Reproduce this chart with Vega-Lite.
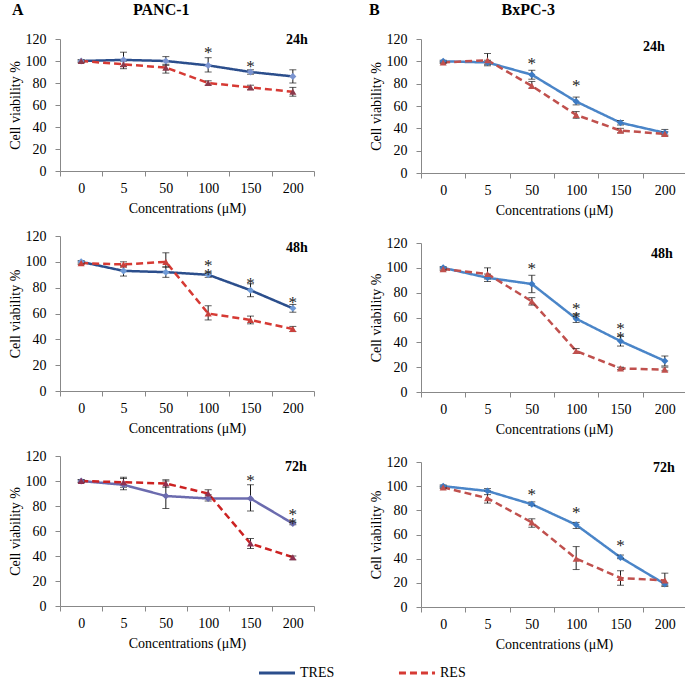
{
  "$schema": "https://vega.github.io/schema/vega-lite/v6.json",
  "padding": {"left": 8, "top": 2, "right": 0, "bottom": 0},
  "config": {
    "view": {"stroke": null},
    "font": "Liberation Serif",
    "axis": {"grid": false, "domainColor": "#888888", "tickColor": "#888888", "labelFont": "Liberation Serif", "titleFont": "Liberation Serif", "labelFontSize": 14, "titleFontSize": 14, "titleFontWeight": "normal", "labelColor": "#000000", "titleColor": "#000000"},
    "axisY": {"tickSize": 5, "labelPadding": 9, "titlePadding": 3},
    "axisX": {"labelAngle": 0, "tickBand": "extent", "tickSize": 5, "labelPadding": 5, "titlePadding": 6},
    "title": {"font": "Liberation Serif", "fontWeight": "bold", "color": "#000000"}
  },
  "datasets": {
    "v": [
      {"cell": "PANC-1", "t": "24h", "c": 0, "s": "TRES", "v": 100, "lo": 99, "hi": 101},
      {"cell": "PANC-1", "t": "24h", "c": 5, "s": "TRES", "v": 101, "lo": 95, "hi": 108},
      {"cell": "PANC-1", "t": "24h", "c": 50, "s": "TRES", "v": 100, "lo": 96, "hi": 104},
      {"cell": "PANC-1", "t": "24h", "c": 100, "s": "TRES", "v": 96, "lo": 90, "hi": 103, "star": "*", "sy": 112},
      {"cell": "PANC-1", "t": "24h", "c": 150, "s": "TRES", "v": 90, "lo": 88, "hi": 92, "star": "*", "sy": 99},
      {"cell": "PANC-1", "t": "24h", "c": 200, "s": "TRES", "v": 86, "lo": 80, "hi": 92},
      {"cell": "PANC-1", "t": "24h", "c": 0, "s": "RES", "v": 100, "lo": 99, "hi": 101},
      {"cell": "PANC-1", "t": "24h", "c": 5, "s": "RES", "v": 97, "lo": 93, "hi": 100},
      {"cell": "PANC-1", "t": "24h", "c": 50, "s": "RES", "v": 94, "lo": 89, "hi": 97},
      {"cell": "PANC-1", "t": "24h", "c": 100, "s": "RES", "v": 80, "lo": 78, "hi": 82},
      {"cell": "PANC-1", "t": "24h", "c": 150, "s": "RES", "v": 76, "lo": 74, "hi": 78},
      {"cell": "PANC-1", "t": "24h", "c": 200, "s": "RES", "v": 72, "lo": 68, "hi": 76},

      {"cell": "PANC-1", "t": "48h", "c": 0, "s": "TRES", "v": 100, "lo": 99, "hi": 101},
      {"cell": "PANC-1", "t": "48h", "c": 5, "s": "TRES", "v": 93, "lo": 89, "hi": 97},
      {"cell": "PANC-1", "t": "48h", "c": 50, "s": "TRES", "v": 92, "lo": 88, "hi": 96},
      {"cell": "PANC-1", "t": "48h", "c": 100, "s": "TRES", "v": 90, "lo": 88, "hi": 92, "star": "*\n*", "sy": 101},
      {"cell": "PANC-1", "t": "48h", "c": 150, "s": "TRES", "v": 78, "lo": 73, "hi": 83, "star": "*", "sy": 87},
      {"cell": "PANC-1", "t": "48h", "c": 200, "s": "TRES", "v": 64, "lo": 61, "hi": 67, "star": "*", "sy": 72},
      {"cell": "PANC-1", "t": "48h", "c": 0, "s": "RES", "v": 99, "lo": 98, "hi": 100},
      {"cell": "PANC-1", "t": "48h", "c": 5, "s": "RES", "v": 98, "lo": 96, "hi": 100},
      {"cell": "PANC-1", "t": "48h", "c": 50, "s": "RES", "v": 100, "lo": 96, "hi": 107},
      {"cell": "PANC-1", "t": "48h", "c": 100, "s": "RES", "v": 60, "lo": 55, "hi": 66},
      {"cell": "PANC-1", "t": "48h", "c": 150, "s": "RES", "v": 55, "lo": 52, "hi": 58},
      {"cell": "PANC-1", "t": "48h", "c": 200, "s": "RES", "v": 48, "lo": 46, "hi": 50},

      {"cell": "PANC-1", "t": "72h", "c": 0, "s": "TRES", "v": 100, "lo": 99, "hi": 101},
      {"cell": "PANC-1", "t": "72h", "c": 5, "s": "TRES", "v": 97, "lo": 93, "hi": 103},
      {"cell": "PANC-1", "t": "72h", "c": 50, "s": "TRES", "v": 88, "lo": 78, "hi": 100},
      {"cell": "PANC-1", "t": "72h", "c": 100, "s": "TRES", "v": 86, "lo": 84, "hi": 89},
      {"cell": "PANC-1", "t": "72h", "c": 150, "s": "TRES", "v": 86, "lo": 76, "hi": 97, "star": "*", "sy": 104},
      {"cell": "PANC-1", "t": "72h", "c": 200, "s": "TRES", "v": 66, "lo": 65, "hi": 67, "star": "*\n*", "sy": 77},
      {"cell": "PANC-1", "t": "72h", "c": 0, "s": "RES", "v": 100, "lo": 99, "hi": 101},
      {"cell": "PANC-1", "t": "72h", "c": 5, "s": "RES", "v": 99, "lo": 95, "hi": 102},
      {"cell": "PANC-1", "t": "72h", "c": 50, "s": "RES", "v": 98, "lo": 95, "hi": 101},
      {"cell": "PANC-1", "t": "72h", "c": 100, "s": "RES", "v": 90, "lo": 87, "hi": 93},
      {"cell": "PANC-1", "t": "72h", "c": 150, "s": "RES", "v": 50, "lo": 46, "hi": 54},
      {"cell": "PANC-1", "t": "72h", "c": 200, "s": "RES", "v": 39, "lo": 37, "hi": 40},

      {"cell": "BxPC-3", "t": "24h", "c": 0, "s": "TRES", "v": 100, "lo": 99, "hi": 101},
      {"cell": "BxPC-3", "t": "24h", "c": 5, "s": "TRES", "v": 99, "lo": 97, "hi": 101},
      {"cell": "BxPC-3", "t": "24h", "c": 50, "s": "TRES", "v": 88, "lo": 84, "hi": 92, "star": "*", "sy": 102},
      {"cell": "BxPC-3", "t": "24h", "c": 100, "s": "TRES", "v": 64, "lo": 61, "hi": 68, "star": "*", "sy": 82},
      {"cell": "BxPC-3", "t": "24h", "c": 150, "s": "TRES", "v": 45, "lo": 43, "hi": 47},
      {"cell": "BxPC-3", "t": "24h", "c": 200, "s": "TRES", "v": 36, "lo": 34, "hi": 39},
      {"cell": "BxPC-3", "t": "24h", "c": 0, "s": "RES", "v": 99, "lo": 98, "hi": 100},
      {"cell": "BxPC-3", "t": "24h", "c": 5, "s": "RES", "v": 101, "lo": 96, "hi": 107},
      {"cell": "BxPC-3", "t": "24h", "c": 50, "s": "RES", "v": 78, "lo": 76, "hi": 82},
      {"cell": "BxPC-3", "t": "24h", "c": 100, "s": "RES", "v": 52, "lo": 49, "hi": 55},
      {"cell": "BxPC-3", "t": "24h", "c": 150, "s": "RES", "v": 38, "lo": 36, "hi": 40},
      {"cell": "BxPC-3", "t": "24h", "c": 200, "s": "RES", "v": 35, "lo": 33, "hi": 37},

      {"cell": "BxPC-3", "t": "48h", "c": 0, "s": "TRES", "v": 100, "lo": 99, "hi": 101},
      {"cell": "BxPC-3", "t": "48h", "c": 5, "s": "TRES", "v": 92, "lo": 89, "hi": 95},
      {"cell": "BxPC-3", "t": "48h", "c": 50, "s": "TRES", "v": 87, "lo": 80, "hi": 94, "star": "*", "sy": 103},
      {"cell": "BxPC-3", "t": "48h", "c": 100, "s": "TRES", "v": 59, "lo": 56, "hi": 63, "star": "*\n*", "sy": 71},
      {"cell": "BxPC-3", "t": "48h", "c": 150, "s": "TRES", "v": 41, "lo": 37, "hi": 45, "star": "*\n*", "sy": 55},
      {"cell": "BxPC-3", "t": "48h", "c": 200, "s": "TRES", "v": 25, "lo": 21, "hi": 29},
      {"cell": "BxPC-3", "t": "48h", "c": 0, "s": "RES", "v": 99, "lo": 98, "hi": 100},
      {"cell": "BxPC-3", "t": "48h", "c": 5, "s": "RES", "v": 95, "lo": 91, "hi": 100},
      {"cell": "BxPC-3", "t": "48h", "c": 50, "s": "RES", "v": 73, "lo": 70, "hi": 76},
      {"cell": "BxPC-3", "t": "48h", "c": 100, "s": "RES", "v": 33, "lo": 31, "hi": 35},
      {"cell": "BxPC-3", "t": "48h", "c": 150, "s": "RES", "v": 19, "lo": 18, "hi": 20},
      {"cell": "BxPC-3", "t": "48h", "c": 200, "s": "RES", "v": 18, "lo": 17, "hi": 20},

      {"cell": "BxPC-3", "t": "72h", "c": 0, "s": "TRES", "v": 100, "lo": 99, "hi": 101},
      {"cell": "BxPC-3", "t": "72h", "c": 5, "s": "TRES", "v": 96, "lo": 93, "hi": 98},
      {"cell": "BxPC-3", "t": "72h", "c": 50, "s": "TRES", "v": 85, "lo": 84, "hi": 87, "star": "*", "sy": 97},
      {"cell": "BxPC-3", "t": "72h", "c": 100, "s": "TRES", "v": 68, "lo": 65, "hi": 70, "star": "*", "sy": 82},
      {"cell": "BxPC-3", "t": "72h", "c": 150, "s": "TRES", "v": 41, "lo": 40, "hi": 43, "star": "*", "sy": 55},
      {"cell": "BxPC-3", "t": "72h", "c": 200, "s": "TRES", "v": 19, "lo": 18, "hi": 20},
      {"cell": "BxPC-3", "t": "72h", "c": 0, "s": "RES", "v": 99, "lo": 98, "hi": 100},
      {"cell": "BxPC-3", "t": "72h", "c": 5, "s": "RES", "v": 90, "lo": 86, "hi": 96},
      {"cell": "BxPC-3", "t": "72h", "c": 50, "s": "RES", "v": 70, "lo": 66, "hi": 73},
      {"cell": "BxPC-3", "t": "72h", "c": 100, "s": "RES", "v": 40, "lo": 31, "hi": 50},
      {"cell": "BxPC-3", "t": "72h", "c": 150, "s": "RES", "v": 24, "lo": 18, "hi": 30},
      {"cell": "BxPC-3", "t": "72h", "c": 200, "s": "RES", "v": 22, "lo": 17, "hi": 28}
    ]
  },
  "spacing": 54,
  "hconcat": [
    {
      "title": {"text": "A", "anchor": "start", "fontSize": 16, "offset": -16, "dx": 4},
      "vconcat": [
        {
          "title": {"text": "PANC-1", "anchor": "middle", "fontSize": 16, "offset": 14},
          "spacing": 65,
          "bounds": "flush",
          "vconcat": [
            {
              "width": 254, "height": 132,
              "data": {"name": "v"},
              "transform": [{"filter": "datum.cell === 'PANC-1' && datum.t === '24h'"}],
              "encoding": {"x": {"field": "c", "type": "ordinal", "scale": {"type": "band", "paddingInner": 0, "paddingOuter": 0}, "axis": {"title": "Concentrations (μM)"}}},
              "layer": [
                {"mark": {"type": "line", "strokeWidth": 2.5},
                 "encoding": {
                   "y": {"field": "v", "type": "quantitative", "scale": {"domain": [0, 120], "nice": false}, "axis": {"title": "Cell viability %", "values": [0, 20, 40, 60, 80, 100, 120]}},
                   "color": {"field": "s", "type": "nominal", "scale": {"domain": ["TRES", "RES"], "range": ["#2b4e8c", "#d63a34"]},
                     "legend": {"title": null, "orient": "none", "legendX": 197, "legendY": 614, "direction": "horizontal", "symbolType": "stroke", "symbolStrokeWidth": 3, "symbolSize": 1300, "labelFontSize": 14, "labelFont": "Liberation Serif", "labelColor": "#000000", "columnPadding": 57, "labelOffset": 3}},
                   "strokeDash": {"field": "s", "type": "nominal", "scale": {"domain": ["TRES", "RES"], "range": [[1, 0], [7, 4]]}}
                 }},
                {"mark": {"type": "errorbar", "ticks": {"size": 7}, "color": "#1a1a1a", "thickness": 1},
                 "encoding": {"y": {"field": "lo", "type": "quantitative", "axis": {"title": "Cell viability %", "values": [0, 20, 40, 60, 80, 100, 120]}}, "y2": {"field": "hi"}}},
                {"mark": {"type": "point", "filled": true, "size": 50, "opacity": 1},
                 "encoding": {
                   "y": {"field": "v", "type": "quantitative", "axis": {"title": "Cell viability %", "values": [0, 20, 40, 60, 80, 100, 120]}},
                   "shape": {"condition": {"test": "datum.s === 'TRES'", "value": "diamond"}, "value": "triangle-up"},
                   "color": {"condition": {"test": "datum.s === 'TRES'", "value": "#7b94d0"}, "value": "#8b3a4c"}
                 }},
                {"transform": [{"filter": "datum.star"}],
                 "mark": {"type": "text", "fontSize": 17, "lineBreak": "\n", "lineHeight": 9, "baseline": "middle", "dy": 5, "color": "#222222"},
                 "encoding": {"y": {"field": "sy", "type": "quantitative", "axis": {"title": "Cell viability %", "values": [0, 20, 40, 60, 80, 100, 120]}}, "text": {"field": "star"}}},
                {"data": {"values": [{"label": "24h"}]},
                 "mark": {"type": "text", "fontSize": 14, "fontWeight": "bold", "dx": 4, "color": "#000000"},
                 "encoding": {"x": {"datum": 200, "type": "ordinal"}, "y": {"datum": 119, "type": "quantitative", "axis": {"title": "Cell viability %", "values": [0, 20, 40, 60, 80, 100, 120]}}, "text": {"field": "label"}}}
              ]
            },
            {
              "width": 254, "height": 155,
              "data": {"name": "v"},
              "transform": [{"filter": "datum.cell === 'PANC-1' && datum.t === '48h'"}],
              "encoding": {"x": {"field": "c", "type": "ordinal", "scale": {"type": "band", "paddingInner": 0, "paddingOuter": 0}, "axis": {"title": "Concentrations (μM)"}}},
              "layer": [
                {"mark": {"type": "line", "strokeWidth": 2.5},
                 "encoding": {
                   "y": {"field": "v", "type": "quantitative", "scale": {"domain": [0, 120], "nice": false}, "axis": {"title": "Cell viability %", "values": [0, 20, 40, 60, 80, 100, 120]}},
                   "detail": {"field": "s"},
                   "color": {"condition": {"test": "datum.s === 'TRES'", "value": "#2b4e8c"}, "value": "#d63a34"},
                   "strokeDash": {"condition": {"test": "datum.s === 'TRES'", "value": [1, 0]}, "value": [7, 4]}
                 }},
                {"mark": {"type": "errorbar", "ticks": {"size": 7}, "color": "#1a1a1a", "thickness": 1},
                 "encoding": {"y": {"field": "lo", "type": "quantitative", "axis": {"title": "Cell viability %", "values": [0, 20, 40, 60, 80, 100, 120]}}, "y2": {"field": "hi"}}},
                {"mark": {"type": "point", "filled": true, "size": 50, "opacity": 1},
                 "encoding": {
                   "y": {"field": "v", "type": "quantitative", "axis": {"title": "Cell viability %", "values": [0, 20, 40, 60, 80, 100, 120]}},
                   "shape": {"condition": {"test": "datum.s === 'TRES'", "value": "diamond"}, "value": "triangle-up"},
                   "color": {"condition": {"test": "datum.s === 'TRES'", "value": "#6f9ad6"}, "value": "#c9403c"}
                 }},
                {"transform": [{"filter": "datum.star"}],
                 "mark": {"type": "text", "fontSize": 17, "lineBreak": "\n", "lineHeight": 9, "baseline": "middle", "dy": 5, "color": "#222222"},
                 "encoding": {"y": {"field": "sy", "type": "quantitative", "axis": {"title": "Cell viability %", "values": [0, 20, 40, 60, 80, 100, 120]}}, "text": {"field": "star"}}},
                {"data": {"values": [{"label": "48h"}]},
                 "mark": {"type": "text", "fontSize": 14, "fontWeight": "bold", "dx": 4, "color": "#000000"},
                 "encoding": {"x": {"datum": 200, "type": "ordinal"}, "y": {"datum": 111, "type": "quantitative", "axis": {"title": "Cell viability %", "values": [0, 20, 40, 60, 80, 100, 120]}}, "text": {"field": "label"}}}
              ]
            },
            {
              "width": 254, "height": 150,
              "data": {"name": "v"},
              "transform": [{"filter": "datum.cell === 'PANC-1' && datum.t === '72h'"}],
              "encoding": {"x": {"field": "c", "type": "ordinal", "scale": {"type": "band", "paddingInner": 0, "paddingOuter": 0}, "axis": {"title": "Concentrations (μM)"}}},
              "layer": [
                {"mark": {"type": "line", "strokeWidth": 2.5},
                 "encoding": {
                   "y": {"field": "v", "type": "quantitative", "scale": {"domain": [0, 120], "nice": false}, "axis": {"title": "Cell viability %", "values": [0, 20, 40, 60, 80, 100, 120]}},
                   "detail": {"field": "s"},
                   "color": {"condition": {"test": "datum.s === 'TRES'", "value": "#6b6bae"}, "value": "#cc2222"},
                   "strokeDash": {"condition": {"test": "datum.s === 'TRES'", "value": [1, 0]}, "value": [7, 4]}
                 }},
                {"mark": {"type": "errorbar", "ticks": {"size": 7}, "color": "#1a1a1a", "thickness": 1},
                 "encoding": {"y": {"field": "lo", "type": "quantitative", "axis": {"title": "Cell viability %", "values": [0, 20, 40, 60, 80, 100, 120]}}, "y2": {"field": "hi"}}},
                {"mark": {"type": "point", "filled": true, "size": 50, "opacity": 1},
                 "encoding": {
                   "y": {"field": "v", "type": "quantitative", "axis": {"title": "Cell viability %", "values": [0, 20, 40, 60, 80, 100, 120]}},
                   "shape": {"condition": {"test": "datum.s === 'TRES'", "value": "diamond"}, "value": "triangle-up"},
                   "color": {"condition": {"test": "datum.s === 'TRES'", "value": "#6b6bae"}, "value": "#8e3050"}
                 }},
                {"transform": [{"filter": "datum.star"}],
                 "mark": {"type": "text", "fontSize": 17, "lineBreak": "\n", "lineHeight": 9, "baseline": "middle", "dy": 5, "color": "#222222"},
                 "encoding": {"y": {"field": "sy", "type": "quantitative", "axis": {"title": "Cell viability %", "values": [0, 20, 40, 60, 80, 100, 120]}}, "text": {"field": "star"}}},
                {"data": {"values": [{"label": "72h"}]},
                 "mark": {"type": "text", "fontSize": 14, "fontWeight": "bold", "dx": 3, "color": "#000000"},
                 "encoding": {"x": {"datum": 200, "type": "ordinal"}, "y": {"datum": 111, "type": "quantitative", "axis": {"title": "Cell viability %", "values": [0, 20, 40, 60, 80, 100, 120]}}, "text": {"field": "label"}}}
              ]
            }
          ]
        }
      ]
    },
    {
      "title": {"text": "B", "anchor": "start", "fontSize": 16, "offset": -16, "dx": 0},
      "vconcat": [
        {
          "title": {"text": "BxPC-3", "anchor": "middle", "fontSize": 16, "offset": 14},
          "spacing": 70,
          "bounds": "flush",
          "vconcat": [
            {
              "width": 266, "height": 134,
              "data": {"name": "v"},
              "transform": [{"filter": "datum.cell === 'BxPC-3' && datum.t === '24h'"}],
              "encoding": {"x": {"field": "c", "type": "ordinal", "scale": {"type": "band", "paddingInner": 0, "paddingOuter": 0}, "axis": {"title": "Concentrations (μM)"}}},
              "layer": [
                {"mark": {"type": "line", "strokeWidth": 2.5},
                 "encoding": {
                   "y": {"field": "v", "type": "quantitative", "scale": {"domain": [0, 120], "nice": false}, "axis": {"title": "Cell viability %", "values": [0, 20, 40, 60, 80, 100, 120]}},
                   "detail": {"field": "s"},
                   "color": {"condition": {"test": "datum.s === 'TRES'", "value": "#4a85c8"}, "value": "#c0504d"},
                   "strokeDash": {"condition": {"test": "datum.s === 'TRES'", "value": [1, 0]}, "value": [7, 4]}
                 }},
                {"mark": {"type": "errorbar", "ticks": {"size": 7}, "color": "#1a1a1a", "thickness": 1},
                 "encoding": {"y": {"field": "lo", "type": "quantitative", "axis": {"title": "Cell viability %", "values": [0, 20, 40, 60, 80, 100, 120]}}, "y2": {"field": "hi"}}},
                {"mark": {"type": "point", "filled": true, "size": 50, "opacity": 1},
                 "encoding": {
                   "y": {"field": "v", "type": "quantitative", "axis": {"title": "Cell viability %", "values": [0, 20, 40, 60, 80, 100, 120]}},
                   "shape": {"condition": {"test": "datum.s === 'TRES'", "value": "diamond"}, "value": "triangle-up"},
                   "color": {"condition": {"test": "datum.s === 'TRES'", "value": "#3d7bc4"}, "value": "#c0504d"}
                 }},
                {"transform": [{"filter": "datum.star"}],
                 "mark": {"type": "text", "fontSize": 17, "lineBreak": "\n", "lineHeight": 9, "baseline": "middle", "dy": 5, "color": "#222222"},
                 "encoding": {"y": {"field": "sy", "type": "quantitative", "axis": {"title": "Cell viability %", "values": [0, 20, 40, 60, 80, 100, 120]}}, "text": {"field": "star"}}},
                {"data": {"values": [{"label": "24h"}]},
                 "mark": {"type": "text", "fontSize": 14, "fontWeight": "bold", "dx": -11, "color": "#000000"},
                 "encoding": {"x": {"datum": 200, "type": "ordinal"}, "y": {"datum": 113, "type": "quantitative", "axis": {"title": "Cell viability %", "values": [0, 20, 40, 60, 80, 100, 120]}}, "text": {"field": "label"}}}
              ]
            },
            {
              "width": 266, "height": 149,
              "data": {"name": "v"},
              "transform": [{"filter": "datum.cell === 'BxPC-3' && datum.t === '48h'"}],
              "encoding": {"x": {"field": "c", "type": "ordinal", "scale": {"type": "band", "paddingInner": 0, "paddingOuter": 0}, "axis": {"title": "Concentrations (μM)"}}},
              "layer": [
                {"mark": {"type": "line", "strokeWidth": 2.5},
                 "encoding": {
                   "y": {"field": "v", "type": "quantitative", "scale": {"domain": [0, 120], "nice": false}, "axis": {"title": "Cell viability %", "values": [0, 20, 40, 60, 80, 100, 120]}},
                   "detail": {"field": "s"},
                   "color": {"condition": {"test": "datum.s === 'TRES'", "value": "#4a85c8"}, "value": "#c0504d"},
                   "strokeDash": {"condition": {"test": "datum.s === 'TRES'", "value": [1, 0]}, "value": [7, 4]}
                 }},
                {"mark": {"type": "errorbar", "ticks": {"size": 7}, "color": "#1a1a1a", "thickness": 1},
                 "encoding": {"y": {"field": "lo", "type": "quantitative", "axis": {"title": "Cell viability %", "values": [0, 20, 40, 60, 80, 100, 120]}}, "y2": {"field": "hi"}}},
                {"mark": {"type": "point", "filled": true, "size": 50, "opacity": 1},
                 "encoding": {
                   "y": {"field": "v", "type": "quantitative", "axis": {"title": "Cell viability %", "values": [0, 20, 40, 60, 80, 100, 120]}},
                   "shape": {"condition": {"test": "datum.s === 'TRES'", "value": "diamond"}, "value": "triangle-up"},
                   "color": {"condition": {"test": "datum.s === 'TRES'", "value": "#3d7bc4"}, "value": "#c0504d"}
                 }},
                {"transform": [{"filter": "datum.star"}],
                 "mark": {"type": "text", "fontSize": 17, "lineBreak": "\n", "lineHeight": 9, "baseline": "middle", "dy": 5, "color": "#222222"},
                 "encoding": {"y": {"field": "sy", "type": "quantitative", "axis": {"title": "Cell viability %", "values": [0, 20, 40, 60, 80, 100, 120]}}, "text": {"field": "star"}}},
                {"data": {"values": [{"label": "48h"}]},
                 "mark": {"type": "text", "fontSize": 14, "fontWeight": "bold", "dx": -3, "color": "#000000"},
                 "encoding": {"x": {"datum": 200, "type": "ordinal"}, "y": {"datum": 111, "type": "quantitative", "axis": {"title": "Cell viability %", "values": [0, 20, 40, 60, 80, 100, 120]}}, "text": {"field": "label"}}}
              ]
            },
            {
              "width": 266, "height": 145,
              "data": {"name": "v"},
              "transform": [{"filter": "datum.cell === 'BxPC-3' && datum.t === '72h'"}],
              "encoding": {"x": {"field": "c", "type": "ordinal", "scale": {"type": "band", "paddingInner": 0, "paddingOuter": 0}, "axis": {"title": "Concentrations (μM)"}}},
              "layer": [
                {"mark": {"type": "line", "strokeWidth": 2.5},
                 "encoding": {
                   "y": {"field": "v", "type": "quantitative", "scale": {"domain": [0, 120], "nice": false}, "axis": {"title": "Cell viability %", "values": [0, 20, 40, 60, 80, 100, 120]}},
                   "detail": {"field": "s"},
                   "color": {"condition": {"test": "datum.s === 'TRES'", "value": "#4a85c8"}, "value": "#c0504d"},
                   "strokeDash": {"condition": {"test": "datum.s === 'TRES'", "value": [1, 0]}, "value": [7, 4]}
                 }},
                {"mark": {"type": "errorbar", "ticks": {"size": 7}, "color": "#1a1a1a", "thickness": 1},
                 "encoding": {"y": {"field": "lo", "type": "quantitative", "axis": {"title": "Cell viability %", "values": [0, 20, 40, 60, 80, 100, 120]}}, "y2": {"field": "hi"}}},
                {"mark": {"type": "point", "filled": true, "size": 50, "opacity": 1},
                 "encoding": {
                   "y": {"field": "v", "type": "quantitative", "axis": {"title": "Cell viability %", "values": [0, 20, 40, 60, 80, 100, 120]}},
                   "shape": {"condition": {"test": "datum.s === 'TRES'", "value": "diamond"}, "value": "triangle-up"},
                   "color": {"condition": {"test": "datum.s === 'TRES'", "value": "#3d7bc4"}, "value": "#c0504d"}
                 }},
                {"transform": [{"filter": "datum.star"}],
                 "mark": {"type": "text", "fontSize": 17, "lineBreak": "\n", "lineHeight": 9, "baseline": "middle", "dy": 5, "color": "#222222"},
                 "encoding": {"y": {"field": "sy", "type": "quantitative", "axis": {"title": "Cell viability %", "values": [0, 20, 40, 60, 80, 100, 120]}}, "text": {"field": "star"}}},
                {"data": {"values": [{"label": "72h"}]},
                 "mark": {"type": "text", "fontSize": 14, "fontWeight": "bold", "dx": -1, "color": "#000000"},
                 "encoding": {"x": {"datum": 200, "type": "ordinal"}, "y": {"datum": 115, "type": "quantitative", "axis": {"title": "Cell viability %", "values": [0, 20, 40, 60, 80, 100, 120]}}, "text": {"field": "label"}}}
              ]
            }
          ]
        }
      ]
    }
  ]
}
